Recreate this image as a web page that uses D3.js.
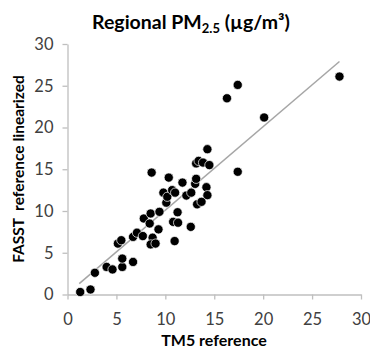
<!DOCTYPE html>
<html>
<head>
<meta charset="utf-8">
<script src="https://cdn.jsdelivr.net/npm/d3@7"></script>
<style>
  body { margin: 0; background: #fff; }
  text { font-family: Lato, "Open Sans", sans-serif; }
</style>
</head>
<body>
<svg></svg>
<script>
const width = 370;
const height = 349;

// TM5 reference (x) and FASST linearized (y)
const tm5 = [1.3, 2.35, 2.8, 4.0, 4.6, 5.6, 5.6, 6.7, 5.15, 5.5, 6.7, 7.1, 7.7, 7.8, 8.4, 8.5, 8.6, 8.7,
  8.5, 9.0, 9.3, 9.4, 9.8, 10.1, 10.2, 10.35, 10.7, 11.0, 10.8, 11.25, 11.3, 10.95, 11.75, 12.15,
  12.65, 12.6, 13.05, 13.15, 13.25, 13.15, 13.4, 13.85, 14.5, 14.3, 17.4, 14.2, 14.3, 13.7, 17.4,
  16.3, 20.1, 27.8];
const fasst = [0.3, 0.6, 2.6, 3.3, 3.0, 3.3, 4.3, 3.9, 6.1, 6.5, 6.9, 7.4, 7.0, 9.1, 8.5, 9.7, 14.6, 6.8,
  6.0, 6.1, 7.8, 9.9, 12.2, 11.0, 11.7, 14.0, 12.5, 12.2, 8.7, 9.85, 8.6, 6.4, 13.4, 11.85,
  12.2, 8.1, 13.25, 13.85, 10.8, 15.7, 16.0, 15.8, 15.5, 17.4, 14.7, 12.85, 11.9, 11.1, 25.1,
  23.5, 21.2, 26.1];

// trend line end points
const trendX = [1.2, 27.8];
const trendY = [1.3, 27.9];

const xTicks = [0, 5, 10, 15, 20, 25, 30];
const yTicks = [0, 5, 10, 15, 20, 25, 30];

const svg = d3.select("svg")
  .attr("width", width)
  .attr("height", height);

const x = d3.scaleLinear().domain([0, 30]).range([67.5, 361]);
const y = d3.scaleLinear().domain([0, 30]).range([294.5, 44]);

// axes
const axisX = svg.append("g")
  .attr("transform", `translate(0, ${y(0)})`)
  .call(d3.axisBottom(x).tickValues(xTicks).tickSize(5).tickSizeOuter(0));
axisX.selectAll("text")
  .attr("y", 19)
  .attr("dy", "0.71em")
  .style("font-size", "16.5px");

const axisY = svg.append("g")
  .attr("transform", `translate(${x(0)}, 0)`)
  .call(d3.axisLeft(y).tickValues(yTicks).tickSize(5).tickSizeOuter(0));
axisY.selectAll("text")
  .attr("x", -14)
  .style("font-size", "16.5px");

svg.selectAll(".domain, .tick line")
  .attr("stroke", "#bfbfbf")
  .attr("stroke-width", 1.3);
svg.selectAll(".tick text")
  .style("font-family", "Lato, 'Open Sans', sans-serif")
  .attr("fill", "#404040");

// trend line
svg.append("line")
  .attr("x1", x(trendX[0])).attr("y1", y(trendY[0]))
  .attr("x2", x(trendX[1])).attr("y2", y(trendY[1]))
  .attr("stroke", "#a6a6a6")
  .attr("stroke-width", 1.5);

// points
const pts = tm5.map((v, i) => ({ x: v, y: fasst[i] }));
svg.selectAll(".dot")
  .data(pts)
  .enter()
  .append("circle")
  .attr("class", "dot")
  .attr("cx", d => x(d.x))
  .attr("cy", d => y(d.y))
  .attr("r", 4.6)
  .attr("fill", "#000")
  .attr("stroke", "#fff")
  .attr("stroke-width", 0.7);

// title
const title = svg.append("text")
  .attr("x", 191)
  .attr("y", 29)
  .attr("text-anchor", "middle")
  .style("font-size", "19.5px")
  .style("font-weight", "bold")
  .attr("fill", "#000");
title.append("tspan").text("Regional PM");
title.append("tspan").attr("dy", 4).style("font-size", "13px").text("2.5");
title.append("tspan").attr("dy", -4).text(" (µg/m³)");

// axis titles
svg.append("text")
  .attr("x", 214)
  .attr("y", 346)
  .attr("text-anchor", "middle")
  .style("font-size", "16px")
  .style("font-weight", "bold")
  .attr("fill", "#000")
  .text("TM5 reference");

svg.append("text")
  .attr("transform", "translate(24, 169) rotate(-90)")
  .attr("text-anchor", "middle")
  .style("font-size", "15.5px")
  .style("font-weight", "bold")
  .attr("fill", "#000")
  .style("white-space", "pre")
  .text("FASST  reference linearized");
</script>
</body>
</html>
